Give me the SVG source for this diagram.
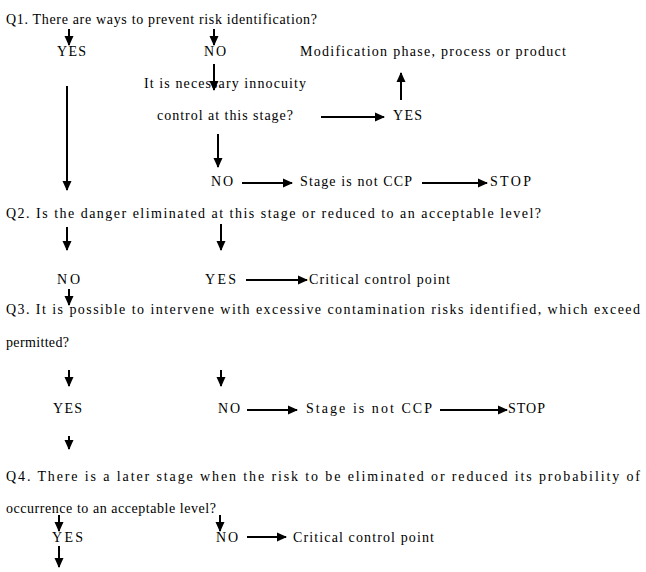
<svg xmlns="http://www.w3.org/2000/svg" width="646" height="572" viewBox="0 0 646 572">
<defs>
<marker id="ah" markerUnits="userSpaceOnUse" markerWidth="10" markerHeight="10" viewBox="0 0 10 10" refX="9" refY="5" orient="auto">
<path d="M0,0.5 L10,5 L0,9.5 Z" fill="#000"/>
</marker>
<style>
text{font-family:'Liberation Serif','DejaVu Serif','Times New Roman',serif;font-size:14px;fill:#000}
.c line{stroke:#000;stroke-width:2;marker-end:url(#ah)}
</style>
</defs>
<rect width="646" height="572" fill="#fff"/>
<g font-family="Liberation Serif, DejaVu Serif, serif">
<g id="q1"><text x="6" y="24" textLength="311" lengthAdjust="spacing">Q1. There are ways to prevent risk identification?</text></g>
<g id="q1-yes"><text x="57" y="56" textLength="29" lengthAdjust="spacing">YES</text></g>
<g id="q1-no"><text x="204" y="56" textLength="22" lengthAdjust="spacing">NO</text></g>
<g id="modification"><text x="300" y="56" textLength="266" lengthAdjust="spacing">Modification phase, process or product</text></g>
<g id="innocuity"><text x="144" y="88" textLength="162" lengthAdjust="spacing">It is necessary innocuity</text><text x="157" y="120" textLength="136" lengthAdjust="spacing">control at this stage?</text></g>
<g id="innocuity-yes"><text x="393" y="120" textLength="29" lengthAdjust="spacing">YES</text></g>
<g id="innocuity-no"><text x="211" y="186" textLength="22" lengthAdjust="spacing">NO</text></g>
<g id="not-ccp-1"><text x="300" y="186" textLength="112" lengthAdjust="spacing">Stage is not CCP</text></g>
<g id="stop-1"><text x="490" y="186" textLength="41" lengthAdjust="spacing">STOP</text></g>
<g id="q2"><text x="6" y="218" textLength="535" lengthAdjust="spacing">Q2. Is the danger eliminated at this stage or reduced to an acceptable level?</text></g>
<g id="q2-no"><text x="57" y="284" textLength="23" lengthAdjust="spacing">NO</text></g>
<g id="q2-yes"><text x="205" y="284" textLength="31" lengthAdjust="spacing">YES</text></g>
<g id="ccp-1"><text x="309" y="284" textLength="141" lengthAdjust="spacing">Critical control point</text></g>
<g id="q3"><text x="6" y="314" textLength="634" lengthAdjust="spacing">Q3. It is possible to intervene with excessive contamination risks identified, which exceed</text><text x="6" y="347" textLength="63" lengthAdjust="spacing">permitted?</text></g>
<g id="q3-yes"><text x="53" y="413" textLength="29" lengthAdjust="spacing">YES</text></g>
<g id="q3-no"><text x="218" y="413" textLength="22" lengthAdjust="spacing">NO</text></g>
<g id="not-ccp-2"><text x="306" y="413" textLength="126" lengthAdjust="spacing">Stage is not CCP</text></g>
<g id="stop-2"><text x="508" y="413" textLength="37" lengthAdjust="spacing">STOP</text></g>
<g id="q4"><text x="6" y="481" textLength="634" lengthAdjust="spacing">Q4. There is a later stage when the risk to be eliminated or reduced its probability of</text><text x="6" y="513" textLength="210" lengthAdjust="spacing">occurrence to an acceptable level?</text></g>
<g id="q4-yes"><text x="52" y="542" textLength="31" lengthAdjust="spacing">YES</text></g>
<g id="q4-no"><text x="216" y="542" textLength="22" lengthAdjust="spacing">NO</text></g>
<g id="ccp-2"><text x="293" y="542" textLength="141" lengthAdjust="spacing">Critical control point</text></g>
</g>
<g id="connectors" class="c">
<line x1="69" y1="29" x2="69" y2="45"/>
<line x1="214" y1="29" x2="214" y2="45"/>
<line x1="214" y1="64" x2="214" y2="90"/>
<line x1="321" y1="117" x2="384" y2="117"/>
<line x1="401" y1="100" x2="401" y2="73"/>
<line x1="67" y1="86" x2="67" y2="190"/>
<line x1="218" y1="134" x2="218" y2="167"/>
<line x1="242" y1="183" x2="292" y2="183"/>
<line x1="422" y1="183" x2="487" y2="183"/>
<line x1="67" y1="227" x2="67" y2="250"/>
<line x1="221" y1="224" x2="221" y2="250"/>
<line x1="246" y1="280" x2="307" y2="280"/>
<line x1="69" y1="289" x2="69" y2="305"/>
<line x1="69" y1="370" x2="69" y2="386"/>
<line x1="221" y1="370" x2="221" y2="386"/>
<line x1="247" y1="410" x2="297" y2="410"/>
<line x1="440" y1="410" x2="507" y2="410"/>
<line x1="69" y1="436" x2="69" y2="449"/>
<line x1="59" y1="515" x2="59" y2="531"/>
<line x1="220" y1="515" x2="220" y2="531"/>
<line x1="247" y1="537" x2="286" y2="537"/>
<line x1="59" y1="546" x2="59" y2="567"/>
</g>
</svg>
